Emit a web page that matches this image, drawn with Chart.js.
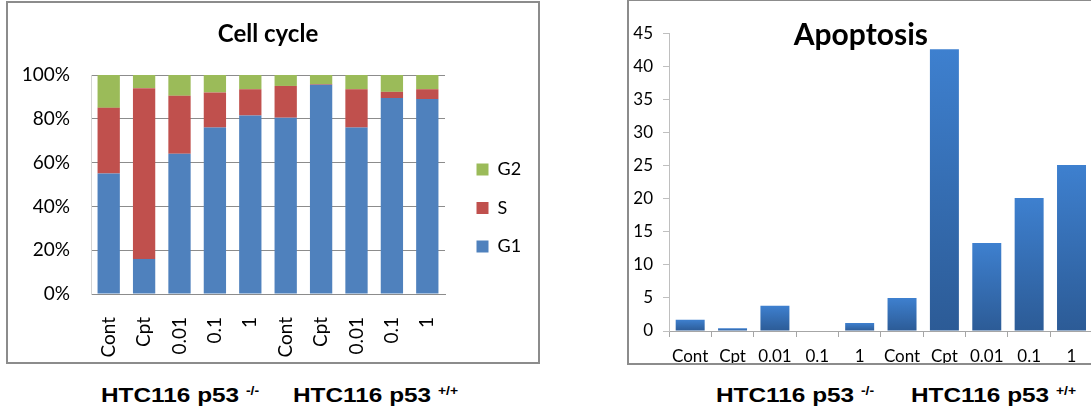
<!DOCTYPE html>
<html>
<head>
<meta charset="utf-8">
<script src="https://cdn.jsdelivr.net/npm/chart.js@4.4.1/dist/chart.umd.min.js"></script>
<style>
  html, body { margin: 0; padding: 0; background: #fff; }
  body { width: 1091px; height: 416px; position: relative; overflow: hidden; }
  .frame { position: absolute; border: 2px solid #8c8c8c; background: #fff; }
  .frame canvas { display: block; }
  #cycleFrame { left: 6px; top: 1px; width: 530px; height: 359px; }
  #apoFrame { left: 627px; top: -1px; width: 466px; height: 362px; }
  .group {
    position: absolute; font-family: "Liberation Sans", Arial, sans-serif;
    font-weight: bold; font-size: 21px; line-height: 21px; color: #000;
    white-space: nowrap; transform: scaleX(1.16); transform-origin: 0 0;
  }
  .group sup { font-size: 12px; vertical-align: 0; position: relative; top: -7px; }
</style>
</head>
<body>
<div class="frame" id="cycleFrame"><canvas id="cycle" width="530" height="359"></canvas></div>
<div class="frame" id="apoFrame"><canvas id="apo" width="466" height="362"></canvas></div>

<div class="group" style="left:101px; top:384px;">HTC116 p53 <sup>-/-</sup></div>
<div class="group" style="left:293px; top:384px;">HTC116 p53 <sup>+/+</sup></div>
<div class="group" style="left:716px; top:384px;">HTC116 p53 <sup>-/-</sup></div>
<div class="group" style="left:911px; top:384px;">HTC116 p53 <sup>+/+</sup></div>

<script>
// Treatments: p53 -/- block, then p53 +/+ block
const categories = ['Cont', 'Cpt', '0.01', '0.1', '1', 'Cont', 'Cpt', '0.01', '0.1', '1'];

// Cell-cycle phase distribution (% of cells)
const g1Phase = [55, 16, 64, 76, 81.5, 80.5, 95.5, 76, 89.5, 89];
const sPhase  = [30, 78, 26.5, 16, 12, 14.5, 0.3, 17.5, 2.8, 4.5];
const g2Phase = [15, 6, 9.5, 8, 6.5, 5, 4.2, 6.5, 7.7, 6.5];
const percentTicks = [0, 20, 40, 60, 80, 100];

// Apoptotic cells (%)
const apoptosis = [1.7, 0.4, 3.8, 0, 1.2, 5.0, 42.6, 13.3, 20.1, 25.1];
const apoTickStep = 5;
const apoMax = 45;

Chart.defaults.font.family = 'Lato, "Open Sans", sans-serif';
Chart.defaults.color = '#000';
Chart.defaults.animation = false;

// Places a layout box (the legend) at a fixed spot of the canvas
const legendPlace = {
  id: 'legendPlace',
  afterLayout(chart, args, opts) {
    const lg = chart.legend;
    if (!lg || opts.left === undefined) return;
    const w = lg.width, h = lg.height;
    lg.left = opts.left; lg.top = opts.top;
    lg.right = lg.left + w; lg.bottom = lg.top + h;
  }
};

new Chart(document.getElementById('cycle'), {
  type: 'bar',
  plugins: [legendPlace],
  data: {
    labels: categories,
    datasets: [
      { label: 'G1', data: g1Phase, backgroundColor: '#4f81bd' },
      { label: 'S',  data: sPhase,  backgroundColor: '#c0504d' },
      { label: 'G2', data: g2Phase, backgroundColor: '#9bbb59' }
    ]
  },
  options: {
    responsive: false,
    categoryPercentage: 1,
    barPercentage: 0.63,
    layout: { padding: { left: 0, right: 93, top: 0, bottom: 0 } },
    scales: {
      x: {
        stacked: true,
        grid: { display: false },
        border: { display: true, color: '#8c8c8c', width: 1 },
        ticks: { font: { size: 19 }, minRotation: 90, maxRotation: 90, autoSkip: false, padding: 15 },
        afterFit(s) { s.height = 68; }
      },
      y: {
        stacked: true,
        min: 0, max: 100,
        afterBuildTicks(s) { s.ticks = percentTicks.map(v => ({ value: v })); },
        grid: { color: '#8c8c8c', drawTicks: false },
        border: { display: true, color: '#d4d4d4' },
        ticks: { font: { size: 19 }, padding: 21, callback: v => v + '%' },
        afterFit(s) { s.width = 83; }
      }
    },
    plugins: {
      title: {
        display: true, text: 'Cell cycle',
        fullSize: false,
        font: { size: 24, weight: 'bold' },
        padding: { top: 16.9, bottom: 26.3 }
      },
      legend: {
        position: 'chartArea',
        align: 'start',
        reverse: true,
        labels: { boxWidth: 12, boxHeight: 12, padding: 20.5, font: { size: 18 } }
      },
      legendPlace: { left: 448, top: 137 },
      tooltip: { enabled: false }
    }
  }
});

// Vertical shading of each bar, lighter at the top
function barShade(c) {
  const chart = c.chart;
  if (!chart.chartArea || c.type !== 'data') return '#3a72b8';
  const y = chart.scales.y;
  const top = y.getPixelForValue(c.raw);
  const base = y.getPixelForValue(0);
  if (!(base - top > 0.5)) return '#3a72b8';
  const g = chart.ctx.createLinearGradient(0, top, 0, base);
  g.addColorStop(0, '#3e80cf');
  g.addColorStop(1, '#2c5b96');
  return g;
}

new Chart(document.getElementById('apo'), {
  type: 'bar',
  data: {
    labels: categories,
    datasets: [{ label: 'Apoptosis', data: apoptosis, backgroundColor: barShade }]
  },
  options: {
    responsive: false,
    categoryPercentage: 1,
    barPercentage: 0.684,
    layout: { padding: { left: 0, right: 2.3, top: 0, bottom: 0 } },
    scales: {
      x: {
        grid: { drawOnChartArea: false, offset: true, tickLength: 6, color: '#a6a6a6' },
        border: { display: true, color: '#a6a6a6' },
        ticks: { font: { size: 17 }, autoSkip: false, maxRotation: 0, padding: 9 },
        afterFit(s) { s.height = 32; }
      },
      y: {
        min: 0, max: apoMax,
        grid: { drawOnChartArea: false, tickLength: 6, color: '#bfbfbf' },
        border: { display: true, color: '#bfbfbf' },
        ticks: { stepSize: apoTickStep, font: { size: 17 }, padding: 10 },
        afterFit(s) { s.width = 40; }
      }
    },
    plugins: {
      title: {
        display: true, text: 'Apoptosis',
        font: { size: 30, weight: 'bold' },
        padding: { top: 16, bottom: -19.7 }
      },
      legend: { display: false },
      tooltip: { enabled: false }
    }
  }
});
</script>
</body>
</html>
